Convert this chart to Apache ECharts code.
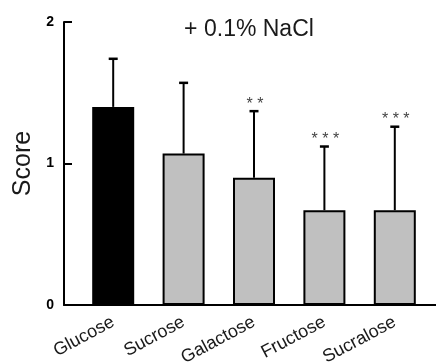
<!DOCTYPE html>
<html>
<head>
<meta charset="utf-8">
<script src="https://cdn.jsdelivr.net/npm/echarts@6/dist/echarts.min.js"></script>
<style>html,body{margin:0;padding:0;background:#fff;}#c{width:436px;height:362px;}</style>
</head>
<body>
<div id="c"></div>
<script>
const categories = ["Glucose", "Sucrose", "Galactose", "Fructose", "Sucralose"];
const means = [1.40, 1.07, 0.90, 0.67, 0.67];
const upper = [1.74, 1.57, 1.37, 1.12, 1.26];
const stars = ["", "", "* *", "* * *", "* * *"];
const yTicks = [0, 1, 2];
const barColors = ["#000000", "#c0c0c0", "#c0c0c0", "#c0c0c0", "#c0c0c0"];

const FONT = "Liberation Sans, Arial, Helvetica, sans-serif";
const chart = echarts.init(document.getElementById('c'), null, {renderer: 'canvas'});

const option = {
  animation: false,
  backgroundColor: '#fff',
  title: {
    text: '+ 0.1% NaCl',
    left: 244,
    top: 13,
    textAlign: 'center',
    textStyle: {fontFamily: FONT, fontSize: 23, fontWeight: 'normal', color: '#1a1a1a'}
  },
  grid: [
    {left: 64, right: 0, top: 22, bottom: 57, containLabel: false, outerBoundsMode: 'none'},
    {left: 78, right: 6, top: 22, bottom: 57, containLabel: false, outerBoundsMode: 'none'}
  ],
  xAxis: [
    {
      gridIndex: 0, type: 'value', min: 0, max: 1,
      axisLine: {show: true, lineStyle: {color: '#000', width: 2}},
      axisTick: {show: false}, axisLabel: {show: false}, splitLine: {show: false}
    },
    {
      gridIndex: 1, type: 'category', data: categories,
      axisLine: {show: false}, axisTick: {show: false}, splitLine: {show: false},
      axisLabel: {
        rotate: 28, margin: 16, interval: 0,
        fontFamily: FONT, fontSize: 18, color: '#1a1a1a'
      }
    }
  ],
  yAxis: [
    {
      gridIndex: 0, type: 'value', min: yTicks[0], max: yTicks[yTicks.length - 1], interval: 1,
      name: 'Score', nameLocation: 'middle', nameGap: 27, nameRotate: 90,
      nameTextStyle: {fontFamily: FONT, fontSize: 25, color: '#1a1a1a'},
      axisLine: {show: true, lineStyle: {color: '#000', width: 2}},
      axisTick: {show: true, inside: true, length: 8, lineStyle: {color: '#000', width: 2}},
      axisLabel: {margin: 10, fontFamily: FONT, fontSize: 14, fontWeight: 'bold', color: '#000'},
      splitLine: {show: false}
    },
    {
      gridIndex: 1, type: 'value', min: yTicks[0], max: yTicks[yTicks.length - 1], show: false
    }
  ],
  series: [
    {
      type: 'bar', xAxisIndex: 1, yAxisIndex: 1,
      barWidth: 42,
      data: means.map((v, i) => ({value: v, itemStyle: {color: barColors[i]}})),
      itemStyle: {borderColor: '#000', borderWidth: 2},
      z: 2
    },
    {
      type: 'custom', xAxisIndex: 1, yAxisIndex: 1, z: 3,
      data: means.map((m, i) => [i, m, upper[i]]),
      renderItem: function (params, api) {
        const i = params.dataIndex;
        const base = api.coord([api.value(0), api.value(1)]);
        const top = api.coord([api.value(0), api.value(2)]);
        const capHalf = 4.5;
        const children = [
          {type: 'line', shape: {x1: base[0], y1: base[1], x2: top[0], y2: top[1]}, style: {stroke: '#000', lineWidth: 2}},
          {type: 'line', shape: {x1: top[0] - capHalf, y1: top[1], x2: top[0] + capHalf, y2: top[1]}, style: {stroke: '#000', lineWidth: 2.5}}
        ];
        if (stars[i]) {
          children.push({
            type: 'text',
            style: {
              text: stars[i], x: top[0] + 1, y: top[1] - 7,
              align: 'center', verticalAlign: 'middle',
              fontFamily: FONT, fontSize: 16, fill: '#444'
            }
          });
        }
        return {type: 'group', children: children};
      }
    }
  ]
};
chart.setOption(option);
</script>
</body>
</html>
